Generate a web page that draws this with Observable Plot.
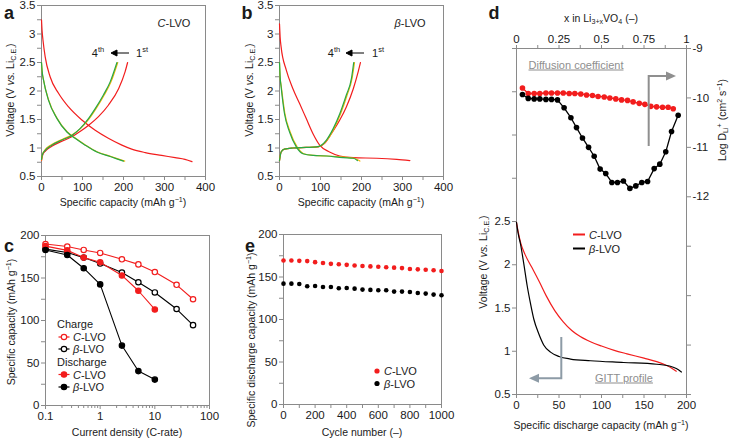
<!DOCTYPE html>
<html>
<head>
<meta charset="utf-8">
<script src="https://cdn.jsdelivr.net/npm/d3@7"></script>
<script src="https://cdn.jsdelivr.net/npm/@observablehq/plot@0.6"></script>
<style>
  html, body { margin: 0; padding: 0; background: #fff; }
  #fig { position: relative; width: 731px; height: 440px; overflow: hidden;
         font-family: "Liberation Sans", Arial, sans-serif; color: #1a1a1a; }
  #fig svg.layer { position: absolute; left: 0; top: 0; }
  #fig svg { font: 11.5px "Liberation Sans", Arial, sans-serif; }
  .t { position: absolute; white-space: nowrap; line-height: 1; font-size: 10.5px; }
  .t sup, .t sub { font-size: 0.68em; line-height: 0; }
  .t sup { vertical-align: 0.55em; }
  .t sub { vertical-align: -0.3em; }
  .panel { font-weight: bold; font-size: 18px; }
  .leg { font-size: 11px; }
</style>
</head>
<body>
<div id="fig"></div>
<script>
// ---------- a: C-LVO charge/discharge curves, [capacity (mAh/g), voltage (V)] ----------
const aDis1 = [[0,3.25],[1.5,3.05],[3.5,2.9],[9,2.6],[21,2.25],[41.5,1.96],[66,1.72],[98.5,1.49],[131,1.31],[163,1.17],[196,1.05],[220,0.98],[253,0.92],[293,0.87],[326,0.83],[350,0.8],[367,0.76]];
const aCha1 = [[0,0.78],[3,0.88],[10,0.95],[25,1.03],[50,1.12],[75,1.2],[94,1.29],[115,1.4],[139,1.55],[163,1.75],[188,2.04],[204,2.34],[210,2.5]];
const aDisY = [[0,2.5],[1.5,2.35],[5,2.19],[17.5,1.84],[38,1.52],[63,1.28],[83,1.17],[108,1.05],[137,0.93],[170,0.85],[203,0.77]];
const aChaY = [[0,0.79],[2,0.88],[9,0.97],[25,1.06],[50,1.15],[74,1.23],[95,1.34],[116,1.51],[133,1.69],[153,1.93],[169.5,2.16],[186,2.5]];
const aDis4 = [[0,2.5],[1.5,2.35],[5,2.19],[17,1.84],[37.5,1.52],[62,1.28],[82,1.17],[106.5,1.05],[135,0.93],[167.5,0.85],[200,0.77]];
const aCha4 = [[0,0.8],[2,0.88],[9,0.96],[25,1.05],[50,1.14],[74,1.22],[94,1.34],[115,1.52],[131,1.69],[151,1.93],[167.5,2.16],[184,2.5]];

// ---------- b: beta-LVO charge/discharge curves ----------
const bDis1 = [[0,3.18],[1.5,2.95],[4,2.77],[16.4,2.37],[32.7,2.04],[49,1.78],[65,1.52],[81.7,1.25],[98,1.05],[122,0.93],[147,0.86],[180,0.83],[237,0.82],[286,0.8],[318,0.78]];
const bCha1 = [[0,0.78],[4,0.93],[12,0.98],[33,1.0],[65,1.01],[95,1.02],[110,1.08],[126.5,1.25],[147,1.49],[163,1.72],[180,2.04],[192,2.34],[197.5,2.5]];
const bDisY = [[0,2.5],[1.5,2.25],[4.5,2.07],[13,1.61],[26,1.28],[43,1.02],[59,0.9],[84,0.87],[116,0.86],[157,0.84],[183,0.82],[196,0.77]];
const bChaY = [[0,0.78],[4,0.93],[12,0.98],[33,1.0],[65,1.01],[90,1.02],[103,1.05],[116,1.14],[133,1.34],[149,1.6],[165,1.93],[177,2.22],[183,2.5]];
const bDis4 = [[0,2.5],[1.5,2.25],[4,2.07],[12,1.61],[24.5,1.28],[41,1.02],[57,0.9],[82,0.87],[114.5,0.86],[155,0.83],[180,0.82],[190,0.78]];
const bCha4 = [[0,0.78],[4,0.93],[12,0.98],[32.7,1.0],[65,1.01],[90,1.02],[102,1.05],[114.5,1.14],[131,1.34],[147,1.6],[163,1.93],[175.5,2.22],[181,2.5]];

// ---------- c: rate capability ----------
const cRates      = [0.1, 0.25, 0.5, 1, 2.5, 5, 10, 25, 50];
const cChargeC    = [190, 187, 183, 179.5, 172, 166, 157, 142, 125];
const cChargeB    = [184, 180, 174, 167, 156.5, 145, 133, 113.5, 94.5];
const cDischargeC = [187.5, 182.5, 174, 168.5, 153, 135, 113];
const cDischargeB = [183, 177, 161.5, 142.5, 70.5, 40.5, 30.5];

// ---------- e: cycling stability ----------
const eCycles = [0,50,100,150,200,250,300,350,400,450,500,550,600,650,700,750,800,850,900,950,1000];
const eC = [169.5,169.5,169,168.7,167.5,166.5,165.5,165,164.3,163.5,163,162.5,162,161.5,161,160.5,159.5,159,158.5,158,157];
const eB = [142.2,142.2,141.8,139.1,139.5,138.3,138.3,136.8,137.1,136.3,135.2,134.8,134.4,134.4,132.8,132.8,132.4,131.2,130.5,129.3,128.5];

// ---------- d: GITT diffusion coefficients (log D vs x) ----------
const dxC = [0.035,0.069,0.104,0.137,0.173,0.206,0.241,0.275,0.31,0.343,0.378,0.412,0.447,0.48,0.516,0.549,0.584,0.618,0.653,0.686,0.722,0.755,0.79,0.824,0.859,0.892,0.922];
const dC  = [-9.8,-9.91,-9.91,-9.91,-9.9,-9.9,-9.9,-9.9,-9.91,-9.91,-9.92,-9.94,-9.95,-9.97,-9.98,-10.0,-10.02,-10.04,-10.05,-10.08,-10.11,-10.13,-10.17,-10.18,-10.19,-10.19,-10.22];
const dxB = [0.035,0.069,0.104,0.137,0.173,0.206,0.241,0.28,0.32,0.353,0.388,0.424,0.457,0.492,0.525,0.561,0.594,0.629,0.667,0.702,0.737,0.771,0.81,0.843,0.878,0.912,0.951];
const dB  = [-9.93,-10.01,-10.02,-10.02,-10.03,-10.03,-10.04,-10.2,-10.4,-10.6,-10.81,-11.0,-11.18,-11.44,-11.53,-11.71,-11.71,-11.68,-11.83,-11.78,-11.71,-11.69,-11.43,-11.34,-11.09,-10.68,-10.35];

// ---------- d: GITT discharge profiles [capacity, voltage] ----------
const gittC = [[0,2.49],[2,2.38],[5,2.25],[10,2.12],[18,1.97],[27,1.8],[35,1.64],[45,1.47],[55,1.34],[65,1.24],[75,1.17],[87,1.11],[100,1.06],[115,1.01],[130,0.97],[150,0.92],[165,0.88],[178,0.83],[188,0.77]];
const gittB = [[0,2.49],[2,2.36],[4.7,2.24],[8.6,2.01],[12.5,1.76],[16.5,1.55],[20.4,1.37],[26.3,1.2],[32.2,1.07],[40,0.99],[50,0.94],[63.5,0.91],[87,0.89],[126,0.87],[165,0.85],[180,0.83],[188,0.8],[194,0.76]];

// ---------- tick values ----------
const capTicks   = [0,50,100,150,200,250,300,350,400];
const voltTicks  = [0.5,0.75,1,1.25,1.5,1.75,2,2.25,2.5,2.75,3,3.25,3.5];
const rateMajor  = [0.1, 1, 10, 100];
const rateMinor  = [0.2,0.3,0.4,0.5,0.6,0.7,0.8,0.9,2,3,4,5,6,7,8,9,20,30,40,50,60,70,80,90];
const capYTicks  = [0,25,50,75,100,125,150,175,200];
const cycleTicks = [0,100,200,300,400,500,600,700,800,900,1000];
const gittXTicks = [0,25,50,75,100,125,150,175,200];
const gittYTicks = [0.5,1,1.5,2,2.5,3,3.5,4,4.5];
const fracTicks  = [0,0.125,0.25,0.375,0.5,0.625,0.75,0.875,1];
const logDTicks  = [-16,-15,-14,-13,-12,-11,-10,-9];

const RED = "#f21d1d", GREEN = "#27a844", YELLOW = "#f2b50a", GREY = "#8a8a8a", INK = "#1a1a1a";
const W = 731, H = 440;
const fig = document.getElementById("fig");

const axis = {stroke: GREY, fill: INK, tickSize: 4, tickPadding: 2, label: null};
const fmtEvery = (step) => (d) => Math.abs(d / step - Math.round(d / step)) < 1e-9 ? String(d) : "";

function layer(frame, scales, marks) {
  const [l, t, r, b] = frame;
  const svg = Plot.plot({
    width: W, height: H,
    marginLeft: l, marginTop: t, marginRight: W - r, marginBottom: H - b,
    x: {...scales.x, label: null}, y: {...scales.y, label: null},
    style: {background: "transparent", overflow: "visible"},
    marks
  });
  svg.classList.add("layer");
  fig.appendChild(svg);
}

const curve = (data, stroke) => Plot.line(data, {x: d => d[0], y: d => d[1], stroke, strokeWidth: 1.2, curve: "monotone-x"});

// a
layer([41, 5, 205, 176], {x: {domain: [0, 400]}, y: {domain: [0.5, 3.5]}}, [
  Plot.frame({stroke: GREY}),
  Plot.axisX(capTicks, {...axis, tickFormat: fmtEvery(100)}),
  Plot.axisY(voltTicks, {...axis, tickFormat: fmtEvery(0.5)}),
  curve(aDis1, RED), curve(aCha1, RED),
  curve(aDisY, YELLOW), curve(aChaY, YELLOW),
  curve(aDis4, GREEN), curve(aCha4, GREEN)
]);

// b
layer([279, 5, 443, 176], {x: {domain: [0, 400]}, y: {domain: [0.5, 3.5]}}, [
  Plot.frame({stroke: GREY}),
  Plot.axisX(capTicks, {...axis, tickFormat: fmtEvery(100)}),
  Plot.axisY(voltTicks, {...axis, tickFormat: fmtEvery(0.5)}),
  curve(bDis1, RED), curve(bCha1, RED),
  curve(bDisY, YELLOW), curve(bChaY, YELLOW),
  curve(bDis4, GREEN), curve(bCha4, GREEN)
]);

// c
const cRows = (vals) => vals.map((v, i) => ({rate: cRates[i], cap: v}));
const cSeries = [
  {rows: cRows(cChargeC), stroke: RED, fill: "white"},
  {rows: cRows(cChargeB), stroke: "black", fill: "white"},
  {rows: cRows(cDischargeC), stroke: RED, fill: RED},
  {rows: cRows(cDischargeB), stroke: "black", fill: "black"}
];
layer([45, 235, 209, 405], {x: {type: "log", domain: [0.1, 100]}, y: {domain: [0, 200]}}, [
  Plot.frame({stroke: GREY}),
  Plot.axisX(rateMinor, {...axis, tickSize: 3, tickFormat: () => ""}),
  Plot.axisX(rateMajor, {...axis, tickFormat: d => String(d)}),
  Plot.axisY(capYTicks, {...axis, tickFormat: fmtEvery(50)}),
  ...cSeries.flatMap(s => [
    Plot.line(s.rows, {x: "rate", y: "cap", stroke: s.stroke, strokeWidth: 1.1}),
    Plot.dot(s.rows, {x: "rate", y: "cap", r: 2.7, stroke: s.stroke, fill: s.fill, strokeWidth: 1.2})
  ])
]);

// e
const eRows = (vals) => vals.map((v, i) => ({cycle: eCycles[i], cap: v}));
layer([283, 234, 441, 404], {x: {domain: [0, 1000]}, y: {domain: [0, 200]}}, [
  Plot.frame({stroke: GREY}),
  Plot.axisX(cycleTicks, {...axis, tickFormat: fmtEvery(200)}),
  Plot.axisY(capYTicks, {...axis, tickFormat: fmtEvery(50)}),
  Plot.dot(eRows(eC), {x: "cycle", y: "cap", r: 2.3, fill: RED}),
  Plot.dot(eRows(eB), {x: "cycle", y: "cap", r: 2.3, fill: "black"})
]);

// d: GITT voltage profiles (bottom / left axes)
layer([516, 48, 686, 394], {x: {domain: [0, 200]}, y: {domain: [0.5, 4.5]}}, [
  Plot.frame({stroke: GREY}),
  Plot.axisX(gittXTicks, {...axis, tickFormat: fmtEvery(50)}),
  Plot.axisY(gittYTicks, {...axis, tickFormat: d => d <= 2.5 ? String(d) : ""}),
  curve(gittC, RED), curve(gittB, "black")
]);

// d: diffusion coefficients (top / right axes)
const dRows = (xs, ys) => xs.map((x, i) => ({x, logD: ys[i]}));
layer([516, 48, 686, 394], {x: {domain: [0, 1]}, y: {domain: [-16, -9]}}, [
  Plot.axisX(fracTicks, {...axis, anchor: "top", tickFormat: fmtEvery(0.25)}),
  Plot.axisY(logDTicks, {...axis, anchor: "right", tickFormat: d => d >= -12 ? "-" + Math.abs(d) : ""}),
  Plot.line(dRows(dxC, dC), {x: "x", y: "logD", stroke: RED, strokeWidth: 1.3}),
  Plot.dot(dRows(dxC, dC), {x: "x", y: "logD", r: 2.8, fill: RED}),
  Plot.line(dRows(dxB, dB), {x: "x", y: "logD", stroke: "black", strokeWidth: 1.3}),
  Plot.dot(dRows(dxB, dB), {x: "x", y: "logD", r: 2.8, fill: "black"})
]);

// ---------- text labels ----------
function text(html, x, y, {rot = 0, cls = "", anchor = "middle", style = ""} = {}) {
  const el = document.createElement("div");
  el.className = "t " + cls;
  el.innerHTML = html;
  const tx = anchor === "start" ? "0" : anchor === "end" ? "-100%" : "-50%";
  el.style.cssText = `left:${x}px;top:${y}px;transform:translate(${tx},-50%) rotate(${rot}deg);${style}`;
  fig.appendChild(el);
}
const voltLabel = "Voltage (V <i>vs.</i> Li<sub>C.E.</sub>)";
const capLabel = "Specific capacity (mAh g<sup>−1</sup>)";

text("a", 9, 13, {cls: "panel"});
text("b", 247, 13, {cls: "panel"});
text("c", 9, 246, {cls: "panel"});
text("d", 494, 13, {cls: "panel"});
text("e", 250, 246, {cls: "panel"});

text(voltLabel, 10, 90, {rot: -90});
text(capLabel, 123, 202);
text("<i>C</i>-LVO", 174, 23, {cls: "leg"});
text("4<sup>th</sup>", 98, 53, {cls: "leg"});
text("1<sup>st</sup>", 142, 53, {cls: "leg"});

text(voltLabel, 249, 90, {rot: -90});
text(capLabel, 361, 202);
text("<i>β</i>-LVO", 410, 23, {cls: "leg"});
text("4<sup>th</sup>", 334, 53, {cls: "leg"});
text("1<sup>st</sup>", 378, 53, {cls: "leg"});

text("Specific capacity (mAh g<sup>−1</sup>)", 11, 322, {rot: -90});
text("Current density (C-rate)", 127, 432);
text("Charge", 57, 324, {cls: "leg", anchor: "start"});
text("<i>C</i>-LVO", 73, 337, {cls: "leg", anchor: "start"});
text("<i>β</i>-LVO", 73, 349, {cls: "leg", anchor: "start"});
text("Discharge", 57, 362, {cls: "leg", anchor: "start"});
text("<i>C</i>-LVO", 73, 374.5, {cls: "leg", anchor: "start"});
text("<i>β</i>-LVO", 73, 387, {cls: "leg", anchor: "start"});

text("Specific discharge capacity (mAh g<sup>−1</sup>)", 251, 340, {rot: -90});
text("Cycle number (–)", 362, 432);
text("<i>C</i>-LVO", 384, 371, {cls: "leg", anchor: "start"});
text("<i>β</i>-LVO", 384, 383.5, {cls: "leg", anchor: "start"});

text("x in Li<sub>3+x</sub>VO<sub>4</sub> (–)", 601, 18);
text("Log D<sub>Li</sub><sup>+</sup> (cm<sup>2</sup> s<sup>−1</sup>)", 722, 120, {rot: -90});
text(voltLabel, 483, 262, {rot: -90});
text("Specific discharge capacity (mAh g<sup>−1</sup>)", 601, 425);
text("Diffusion coefficient", 576, 65, {style: "color:#8e8e8e;text-decoration:underline;font-size:11px"});
text("GITT profile", 624, 378, {style: "color:#8e8e8e;text-decoration:underline;font-size:11px"});
text("<i>C</i>-LVO", 589, 234.5, {cls: "leg", anchor: "start"});
text("<i>β</i>-LVO", 589, 248.5, {cls: "leg", anchor: "start"});

// ---------- legend symbols and annotation arrows ----------
const ns = "http://www.w3.org/2000/svg";
const ann = document.createElementNS(ns, "svg");
ann.setAttribute("width", W); ann.setAttribute("height", H);
ann.setAttribute("class", "layer");
ann.innerHTML = `
  <g stroke="black" stroke-width="1">
    <line x1="129" y1="53" x2="116" y2="53"/><path d="M111,53 L117,50 L117,56 Z" fill="black"/>
    <line x1="364" y1="53" x2="351" y2="53"/><path d="M346,53 L352,50 L352,56 Z" fill="black"/>
  </g>
  <g stroke-width="1.2">
    <line x1="58.5" y1="337" x2="69.5" y2="337" stroke="${RED}"/><circle cx="64" cy="337" r="2.7" fill="white" stroke="${RED}"/>
    <line x1="58.5" y1="349" x2="69.5" y2="349" stroke="black"/><circle cx="64" cy="349" r="2.7" fill="white" stroke="black"/>
    <line x1="58.5" y1="374.5" x2="69.5" y2="374.5" stroke="${RED}"/><circle cx="64" cy="374.5" r="2.7" fill="${RED}" stroke="${RED}"/>
    <line x1="58.5" y1="387" x2="69.5" y2="387" stroke="black"/><circle cx="64" cy="387" r="2.7" fill="black" stroke="black"/>
  </g>
  <circle cx="377" cy="371" r="2.6" fill="${RED}"/>
  <circle cx="377" cy="383.5" r="2.6" fill="black"/>
  <line x1="573" y1="234.5" x2="585" y2="234.5" stroke="${RED}" stroke-width="2"/>
  <line x1="573" y1="248.5" x2="585" y2="248.5" stroke="black" stroke-width="2"/>
  <polyline points="648.7,146 648.7,76 667,76" fill="none" stroke="#8f8f8f" stroke-width="2"/>
  <path d="M676,76 L666,71.5 L666,80.5 Z" fill="#8f8f8f"/>
  <polyline points="561.3,337 561.3,378.3 537,378.3" fill="none" stroke="#8d9ba6" stroke-width="2"/>
  <path d="M529,378.3 L539,373.8 L539,382.8 Z" fill="#8d9ba6"/>
`;
fig.appendChild(ann);
</script>
</body>
</html>
